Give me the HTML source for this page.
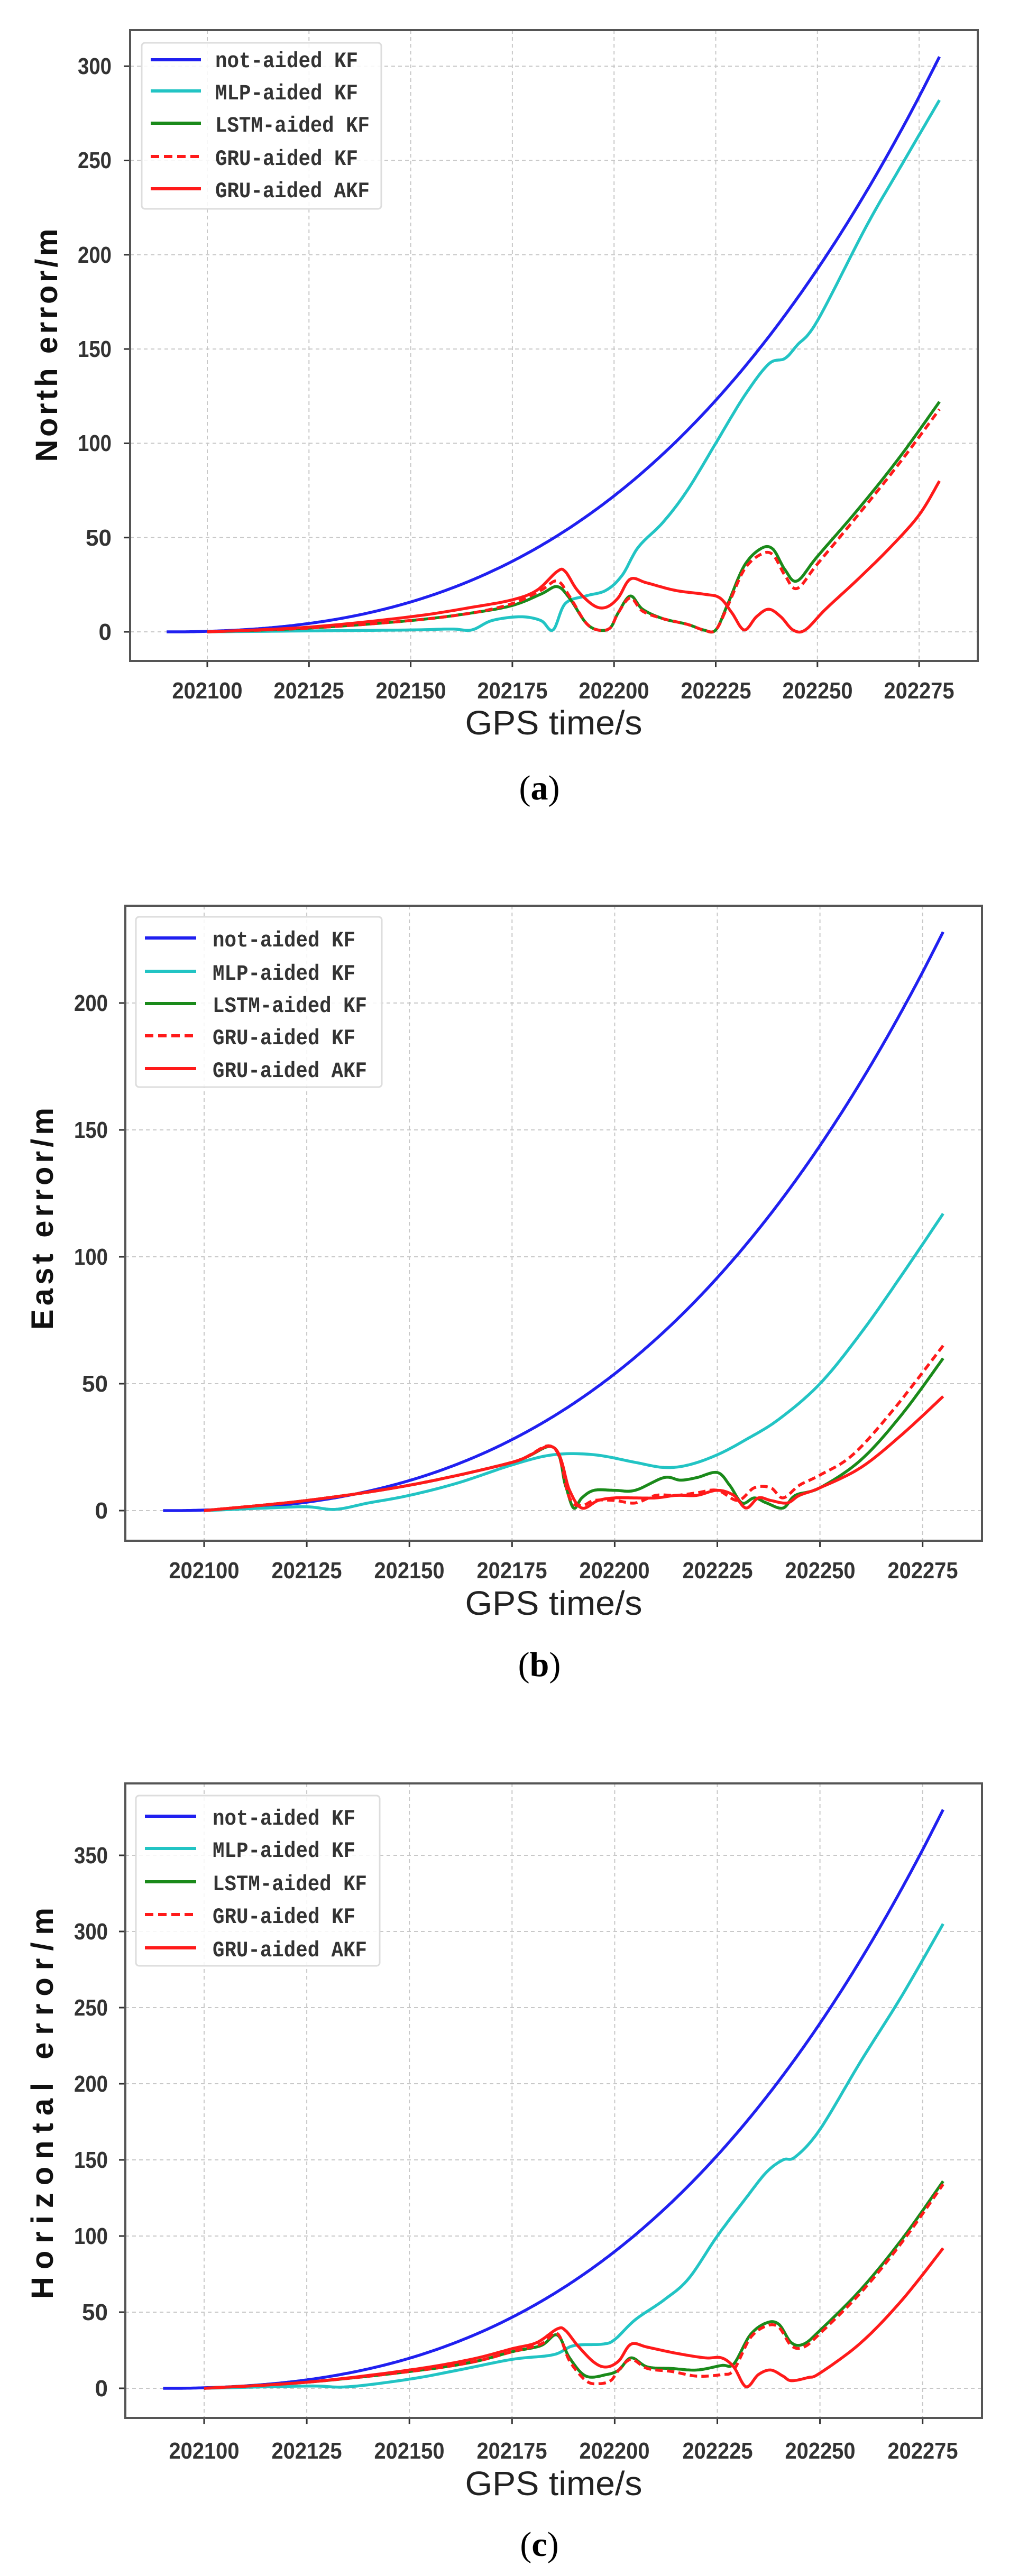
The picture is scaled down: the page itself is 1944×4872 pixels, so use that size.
<!DOCTYPE html>
<html><head><meta charset="utf-8">
<style>
html,body{margin:0;padding:0;background:#fff;}
svg{display:block;}
.tk{font-family:"Liberation Sans",sans-serif;font-size:44px;fill:#333;font-weight:bold;}
.lg{font-family:"Liberation Mono",monospace;font-size:42px;fill:#333;font-weight:bold;}
.xl{font-family:"Liberation Sans",sans-serif;font-size:64px;fill:#222;}
.yl{font-family:"Liberation Sans",sans-serif;font-size:58px;fill:#111;font-weight:bold;}
.cap{font-family:"Liberation Serif",serif;font-size:66px;fill:#000;}
</style></head>
<body>
<svg id="s" width="1944" height="4872" viewBox="0 0 1944 4872" xmlns="http://www.w3.org/2000/svg">
<rect width="1944" height="4872" fill="#fff"/>
<g id="plots"></g>

<g class="tk" text-anchor="middle">
<text x="392" y="1321" textLength="133" lengthAdjust="spacingAndGlyphs">202100</text>
<text x="584" y="1321" textLength="133" lengthAdjust="spacingAndGlyphs">202125</text>
<text x="777" y="1321" textLength="133" lengthAdjust="spacingAndGlyphs">202150</text>
<text x="969" y="1321" textLength="133" lengthAdjust="spacingAndGlyphs">202175</text>
<text x="1161" y="1321" textLength="133" lengthAdjust="spacingAndGlyphs">202200</text>
<text x="1354" y="1321" textLength="133" lengthAdjust="spacingAndGlyphs">202225</text>
<text x="1546" y="1321" textLength="133" lengthAdjust="spacingAndGlyphs">202250</text>
<text x="1738" y="1321" textLength="133" lengthAdjust="spacingAndGlyphs">202275</text>
</g>
<g class="tk" text-anchor="end">
<text x="211" y="1210">0</text>
<text x="211" y="1032">50</text>
<text x="211" y="853" textLength="64" lengthAdjust="spacingAndGlyphs">100</text>
<text x="211" y="675" textLength="64" lengthAdjust="spacingAndGlyphs">150</text>
<text x="211" y="497" textLength="64" lengthAdjust="spacingAndGlyphs">200</text>
<text x="211" y="318" textLength="64" lengthAdjust="spacingAndGlyphs">250</text>
<text x="211" y="140" textLength="64" lengthAdjust="spacingAndGlyphs">300</text>
</g>
<text class="xl" x="1047" y="1389" text-anchor="middle" textLength="335" lengthAdjust="spacingAndGlyphs">GPS time/s</text>
<text class="yl" transform="translate(108,653) rotate(-90)" text-anchor="middle" textLength="441" lengthAdjust="spacing">North error/m</text>
<text class="cap" x="1020" y="1512" text-anchor="middle">(<tspan font-weight="bold">a</tspan>)</text>

<g class="tk" text-anchor="middle">
<text x="386" y="2985" textLength="133" lengthAdjust="spacingAndGlyphs">202100</text>
<text x="580" y="2985" textLength="133" lengthAdjust="spacingAndGlyphs">202125</text>
<text x="774" y="2985" textLength="133" lengthAdjust="spacingAndGlyphs">202150</text>
<text x="968" y="2985" textLength="133" lengthAdjust="spacingAndGlyphs">202175</text>
<text x="1162" y="2985" textLength="133" lengthAdjust="spacingAndGlyphs">202200</text>
<text x="1357" y="2985" textLength="133" lengthAdjust="spacingAndGlyphs">202225</text>
<text x="1551" y="2985" textLength="133" lengthAdjust="spacingAndGlyphs">202250</text>
<text x="1745" y="2985" textLength="133" lengthAdjust="spacingAndGlyphs">202275</text>
</g>
<g class="tk" text-anchor="end">
<text x="204" y="2872">0</text>
<text x="204" y="2632">50</text>
<text x="204" y="2392" textLength="64" lengthAdjust="spacingAndGlyphs">100</text>
<text x="204" y="2152" textLength="64" lengthAdjust="spacingAndGlyphs">150</text>
<text x="204" y="1912" textLength="64" lengthAdjust="spacingAndGlyphs">200</text>
</g>
<text class="xl" x="1047" y="3054" text-anchor="middle" textLength="335" lengthAdjust="spacingAndGlyphs">GPS time/s</text>
<text class="yl" transform="translate(100,2305) rotate(-90)" text-anchor="middle" textLength="420" lengthAdjust="spacing">East error/m</text>
<text class="cap" x="1020" y="3170" text-anchor="middle">(<tspan font-weight="bold">b</tspan>)</text>

<g class="tk" text-anchor="middle">
<text x="386" y="4650" textLength="133" lengthAdjust="spacingAndGlyphs">202100</text>
<text x="580" y="4650" textLength="133" lengthAdjust="spacingAndGlyphs">202125</text>
<text x="774" y="4650" textLength="133" lengthAdjust="spacingAndGlyphs">202150</text>
<text x="968" y="4650" textLength="133" lengthAdjust="spacingAndGlyphs">202175</text>
<text x="1162" y="4650" textLength="133" lengthAdjust="spacingAndGlyphs">202200</text>
<text x="1357" y="4650" textLength="133" lengthAdjust="spacingAndGlyphs">202225</text>
<text x="1551" y="4650" textLength="133" lengthAdjust="spacingAndGlyphs">202250</text>
<text x="1745" y="4650" textLength="133" lengthAdjust="spacingAndGlyphs">202275</text>
</g>
<g class="tk" text-anchor="end">
<text x="204" y="4532">0</text>
<text x="204" y="4388">50</text>
<text x="204" y="4244" textLength="64" lengthAdjust="spacingAndGlyphs">100</text>
<text x="204" y="4100" textLength="64" lengthAdjust="spacingAndGlyphs">150</text>
<text x="204" y="3956" textLength="64" lengthAdjust="spacingAndGlyphs">200</text>
<text x="204" y="3812" textLength="64" lengthAdjust="spacingAndGlyphs">250</text>
<text x="204" y="3668" textLength="64" lengthAdjust="spacingAndGlyphs">300</text>
<text x="204" y="3524" textLength="64" lengthAdjust="spacingAndGlyphs">350</text>
</g>
<text class="xl" x="1047" y="4719" text-anchor="middle" textLength="335" lengthAdjust="spacingAndGlyphs">GPS time/s</text>
<text class="yl" transform="translate(100,3978) rotate(-90)" text-anchor="middle" textLength="740" lengthAdjust="spacing">Horizontal error/m</text>
<text class="cap" x="1020" y="4834" text-anchor="middle">(<tspan font-weight="bold">c</tspan>)</text>

<g id="legends"></g>
<g class="lg" id="legtext">
<text x="407" y="127" textLength="270" lengthAdjust="spacingAndGlyphs">not-aided KF</text>
<text x="407" y="188" textLength="270" lengthAdjust="spacingAndGlyphs">MLP-aided KF</text>
<text x="407" y="249" textLength="292" lengthAdjust="spacingAndGlyphs">LSTM-aided KF</text>
<text x="407" y="312" textLength="270" lengthAdjust="spacingAndGlyphs">GRU-aided KF</text>
<text x="407" y="373" textLength="292" lengthAdjust="spacingAndGlyphs">GRU-aided AKF</text>

<text x="402" y="1790" textLength="270" lengthAdjust="spacingAndGlyphs">not-aided KF</text>
<text x="402" y="1853" textLength="270" lengthAdjust="spacingAndGlyphs">MLP-aided KF</text>
<text x="402" y="1914" textLength="292" lengthAdjust="spacingAndGlyphs">LSTM-aided KF</text>
<text x="402" y="1975" textLength="270" lengthAdjust="spacingAndGlyphs">GRU-aided KF</text>
<text x="402" y="2037" textLength="292" lengthAdjust="spacingAndGlyphs">GRU-aided AKF</text>

<text x="402" y="3451" textLength="270" lengthAdjust="spacingAndGlyphs">not-aided KF</text>
<text x="402" y="3512" textLength="270" lengthAdjust="spacingAndGlyphs">MLP-aided KF</text>
<text x="402" y="3575" textLength="292" lengthAdjust="spacingAndGlyphs">LSTM-aided KF</text>
<text x="402" y="3637" textLength="270" lengthAdjust="spacingAndGlyphs">GRU-aided KF</text>
<text x="402" y="3700" textLength="292" lengthAdjust="spacingAndGlyphs">GRU-aided AKF</text>
</g>
</svg>
<script>
(function(){
var NS="http://www.w3.org/2000/svg";
var plots=document.getElementById('plots'), legs=document.getElementById('legends');
function el(p,t,a){var e=document.createElementNS(NS,t);for(var k in a)e.setAttribute(k,a[k]);p.appendChild(e);return e;}
function cr(pts){
  var out=[];
  for(var i=0;i<pts.length-1;i++){
    var p0=pts[Math.max(0,i-1)],p1=pts[i],p2=pts[i+1],p3=pts[Math.min(pts.length-1,i+2)];
    for(var s=0;s<12;s++){var t=s/12,t2=t*t,t3=t2*t;
      var f=function(a,b,c,d){return 0.5*((2*b)+(-a+c)*t+(2*a-5*b+4*c-d)*t2+(-a+3*b-3*c+d)*t3);};
      out.push([f(p0[0],p1[0],p2[0],p3[0]),f(p0[1],p1[1],p2[1],p3[1])]);}
  }
  out.push(pts[pts.length-1]);return out;
}
function blue(end){var a=[];for(var t=90;t<=280;t+=5){var u=(t-90)/190;a.push([t,end*(0.3*u*u+0.7*u*u*u)*(t<100?0.3:1)]);}return a;}
var COL={b:'#2020f0',m:'#22c4c4',g:'#1a8a1a',d:'#ff1a1a',r:'#ff1a1a'};
function panel(P){
  var g=el(plots,'g',{});
  var X=function(t){return P.x0+(t-100)/25*P.dx;}, Y=function(v){return P.y0-v/50*P.dy;};
  for(var k=0;k<8;k++){var x=P.x0+k*P.dx;
    el(g,'line',{x1:x,x2:x,y1:P.T,y2:P.B,stroke:'#c8c8c8','stroke-width':2,'stroke-dasharray':'7,6'});
    el(g,'line',{x1:x,x2:x,y1:P.B,y2:P.B+12,stroke:'#333','stroke-width':3});}
  for(var v=0;v<=P.ymax;v+=50){var y=Y(v);
    el(g,'line',{x1:P.L,x2:P.R,y1:y,y2:y,stroke:'#c8c8c8','stroke-width':2,'stroke-dasharray':'7,6'});
    el(g,'line',{x1:P.L-12,x2:P.L,y1:y,y2:y,stroke:'#333','stroke-width':3});}
  var order=['b','m','g','d','r'];
  order.forEach(function(k){
    var pts=P.s[k].map(function(p){return [X(p[0]),Y(p[1])];});
    var c=cr(pts), d='M'+c.map(function(p){return p[0].toFixed(1)+','+p[1].toFixed(1);}).join('L');
    var a={d:d,fill:'none',stroke:COL[k],'stroke-width':5.5,'stroke-linejoin':'round'};
    if(k=='d'){a['stroke-dasharray']='14,8';}
    el(g,'path',a);
  });
  el(g,'rect',{x:P.L,y:P.T,width:P.R-P.L,height:P.B-P.T,fill:'none',stroke:'#555','stroke-width':4});
  el(legs,'rect',{x:P.lg[0],y:P.lg[1],width:P.lg[2]-P.lg[0],height:P.lg[3]-P.lg[1],fill:'#fff','fill-opacity':0.85,stroke:'#ddd','stroke-width':3,rx:6});
  order.forEach(function(k,i){var y=P.ly[i];
    var a={x1:P.lx[0],x2:P.lx[1],y1:y,y2:y,stroke:COL[k],'stroke-width':6};
    if(k=='d')a['stroke-dasharray']='16,9';
    el(legs,'line',a);});
}
panel({L:246,R:1849,T:57,B:1250,x0:392,dx:192.3,y0:1195,dy:178.3,ymax:300,
 lg:[268,81,721,395],lx:[285,380],ly:[113,172,233,296,357],
 s:{
 b:blue(305),
 m:[[100,0],[125,0.5],[150,1],[160,1.5],[165,1],[170,6],[177,8],[182,6],[185,1],[188,15],[193,19],[198,22],[202,30],[206,45],[212,58],[218,75],[225,100],[232,125],[238,142],[242,145],[245,152],[250,165],[262,215],[270,245],[280,282]],
 g:[[100,0],[125,2],[150,6],[165,10],[175,14],[182,20],[186,24],[189,18],[193,5],[196,1],[199,2],[201,10],[204,19],[207,12],[212,7],[218,4],[222,1],[225,1],[228,15],[232,35],[236,44],[239,44],[242,33],[245,27],[250,40],[260,65],[270,92],[280,122]],
 d:[[100,0],[125,2],[150,6],[165,10],[175,15],[182,22],[186,27],[189,19],[193,5],[196,1],[199,2],[201,10],[204,18],[207,11],[212,7],[218,4],[222,1],[225,1],[228,14],[232,33],[236,41],[239,41],[242,30],[245,23],[250,36],[260,62],[270,89],[280,118]],
 r:[[100,0],[125,2.5],[150,8],[165,13],[175,17],[181,22],[186,32],[188,32],[191,22],[195,14],[198,13],[201,18],[204,28],[208,26],[215,22],[222,20],[226,18],[229,10],[232,1],[235,8],[238,12],[241,8],[244,1],[247,1],[252,12],[260,28],[268,45],[275,62],[280,80]]
 }});
panel({L:237,R:1857,T:1713,B:2914,x0:386,dx:194.1,y0:2857,dy:240,ymax:200,
 lg:[257,1734,722,2056],lx:[274,371],ly:[1774,1837,1898,1959,2021],
 s:{
 b:blue(228),
 m:[[100,0],[115,1],[125,1.5],[132,0.5],[140,3],[150,6],[162,11],[175,18],[185,22],[195,22],[205,19],[212,17],[218,18],[225,22],[232,28],[240,36],[250,50],[260,70],[270,93],[280,117]],
 g:[[100,0],[125,4],[150,10],[175,19],[185,25],[188,10],[190,1],[192,5],[195,8],[200,8],[205,8],[212,13],[216,12],[220,13],[225,15],[228,10],[231,3],[234,5],[237,3],[241,1],[244,6],[250,9],[260,20],[270,38],[280,60]],
 d:[[100,0],[125,4],[150,10],[175,19],[185,25],[189,5],[192,2],[195,4],[200,4],[205,3],[210,6],[215,6],[220,7],[225,8],[230,4],[234,9],[238,9],[241,5],[245,10],[250,14],[258,22],[268,40],[280,65]],
 r:[[100,0],[125,4],[150,10],[175,19],[185,25],[189,8],[192,1],[196,4],[200,5],[205,5],[210,5],[215,6],[220,6],[225,8],[229,6],[232,1],[235,5],[238,4],[242,3],[245,6],[250,9],[260,17],[270,30],[280,45]]
 }});
panel({L:237,R:1857,T:3373,B:4573,x0:386,dx:194.1,y0:4517,dy:144,ymax:350,
 lg:[257,3396,718,3718],lx:[274,371],ly:[3435,3496,3559,3621,3684],
 s:{
 b:blue(380),
 m:[[100,0],[125,1.5],[135,1],[150,6],[162,12],[175,19],[185,22],[190,28],[197,29],[200,32],[205,45],[212,58],[218,72],[225,100],[232,125],[237,142],[241,150],[244,152],[250,170],[260,215],[270,258],[280,305]],
 g:[[100,0],[125,4],[150,11],[165,17],[175,24],[182,28],[186,35],[189,20],[193,8],[198,9],[201,12],[204,20],[208,14],[214,13],[220,12],[226,15],[229,16],[233,35],[237,43],[240,42],[243,30],[246,29],[250,38],[260,65],[270,98],[280,136]],
 d:[[100,0],[125,4],[150,11],[165,17],[175,24],[182,29],[186,36],[189,18],[193,5],[196,3],[199,5],[201,12],[204,19],[208,13],[214,11],[220,8],[226,9],[229,12],[233,33],[237,41],[240,40],[243,28],[246,27],[250,36],[260,63],[270,96],[280,134]],
 r:[[100,0],[125,4],[150,12],[165,19],[175,26],[181,30],[186,39],[188,38],[191,28],[195,17],[198,14],[201,18],[204,29],[208,27],[215,23],[222,20],[226,20],[229,14],[232,1],[235,9],[238,12],[241,8],[243,5],[247,7],[250,10],[260,30],[270,58],[280,92]]
 }});
})();
</script>
</body></html>
